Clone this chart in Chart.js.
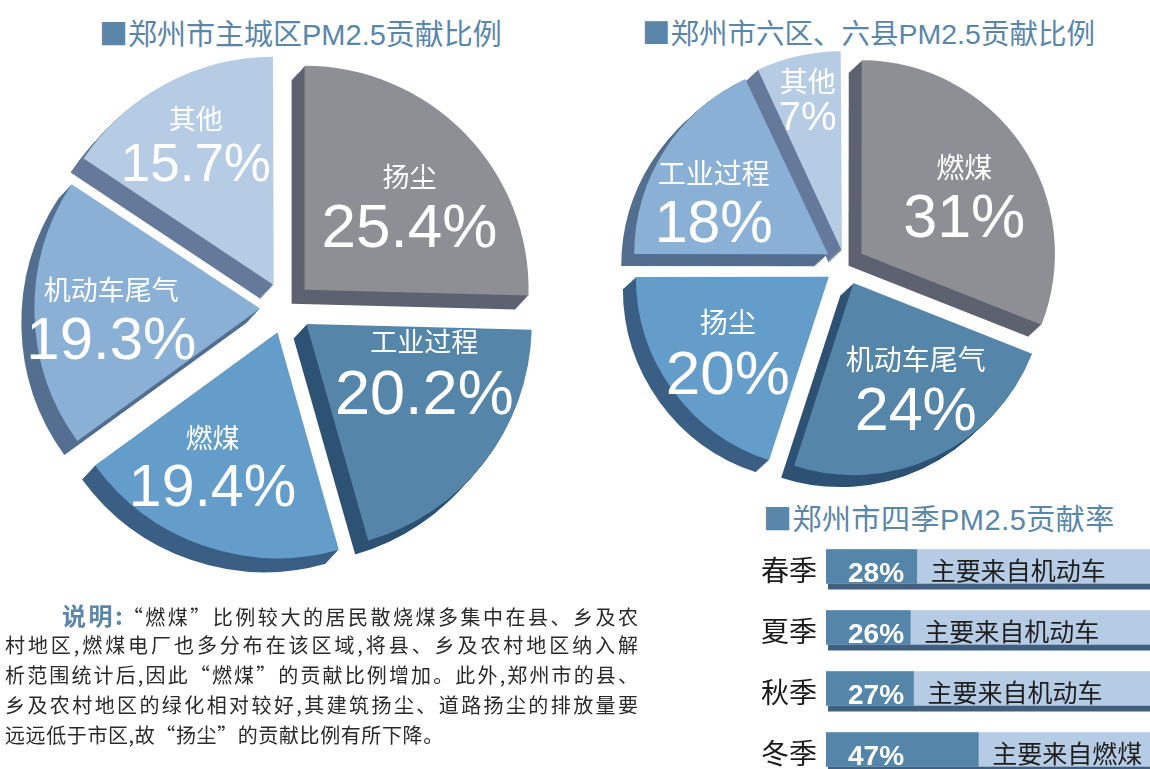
<!DOCTYPE html>
<html lang="zh-CN">
<head>
<meta charset="utf-8">
<script src="https://cdn.jsdelivr.net/npm/chart.js@4.4.1/dist/chart.umd.min.js"></script>
<style>
  html, body { margin: 0; padding: 0; width: 1150px; height: 769px; overflow: hidden; background: #fff; }
  body { position: relative; font-family: "Noto Sans CJK SC", sans-serif; }
  .title { position: absolute; color: #5a86aa; font-size: 29px; line-height: 29px; white-space: nowrap;
           font-family: "Liberation Sans", "Noto Sans CJK SC", sans-serif; }
  .title .sq { font-family: "Noto Sans CJK SC", sans-serif; }
  canvas { position: absolute; }
  #note { position: absolute; left: 5px; top: 600px; width: 633px; font-size: 20px; line-height: 30px; color: #2a2a2a; }
  #note div { height: 30px; text-align: justify; text-align-last: justify; white-space: nowrap; }
  #note div.last { text-align: left; text-align-last: left; letter-spacing: 0.6px; }
  #note .lead { color: #5a86aa; font-weight: bold; font-size: 24px; }
</style>
</head>
<body>

<div class="title" style="left:99px; top:18px;"><span class="sq">■</span>郑州市主城区PM2.5贡献比例</div>
<div class="title" style="left:642px; top:17px; font-size:28.5px;"><span class="sq">■</span>郑州市六区、六县PM2.5贡献比例</div>
<div class="title" style="left:763px; top:503px; letter-spacing:0.5px;"><span class="sq">■</span>郑州市四季PM2.5贡献率</div>

<canvas id="pieCity" width="564" height="616" style="left:4px; top:0;"></canvas>
<canvas id="pieCounty" width="500" height="500" style="left:595px; top:15px;"></canvas>
<canvas id="seasonBars" width="410" height="244" style="left:740px; top:536px;"></canvas>

<div id="note">
  <div style="padding-left:57px;"><span class="lead">说明:</span>“燃煤”比例较大的居民散烧煤多集中在县、乡及农</div>
  <div>村地区,燃煤电厂也多分布在该区域,将县、乡及农村地区纳入解</div>
  <div>析范围统计后,因此“燃煤”的贡献比例增加。此外,郑州市的县、</div>
  <div>乡及农村地区的绿化相对较好,其建筑扬尘、道路扬尘的排放量要</div>
  <div class="last">远远低于市区,故“扬尘”的贡献比例有所下降。</div>
</div>

<script>
// 主城区
const cityLabels = ['扬尘', '工业过程', '燃煤', '机动车尾气', '其他'];
const cityShare = [25.4, 20.2, 19.4, 19.3, 15.7];

// 六区、六县
const countyLabels = ['燃煤', '机动车尾气', '扬尘', '工业过程', '其他'];
const countyShare = [31, 24, 20, 18, 7];

// 四季
const seasons = ['春季', '夏季', '秋季', '冬季'];
const seasonShare = [28, 26, 27, 47];
const seasonFull = [100, 100, 100, 100];
const seasonSource = ['主要来自机动车', '主要来自机动车', '主要来自机动车', '主要来自燃煤'];

const TOPS = ['#8e8f94', '#5585a9', '#649dca', '#8ab0d6', '#b6cbe4'];
const SIDES = ['#5e6270', '#2e5274', '#3b5f84', '#546f90', '#657a9b'];

// extruded side of each slice, drawn under the slices
const depthPlugin = {
  id: 'depth',
  beforeDatasetsDraw(chart, args, opts) {
    const ctx = chart.ctx;
    chart.getDatasetMeta(0).data.forEach((el, i) => {
      const orig = el.options.backgroundColor;
      el.options.backgroundColor = opts.sides[i];
      for (let s = opts.steps; s >= 1; s--) {
        ctx.save();
        ctx.translate(opts.dx * s, opts.dy * s);
        el.draw(ctx);
        ctx.restore();
      }
      el.options.backgroundColor = orig;
    });
  }
};

// name + percentage inside each slice
const sliceLabels = {
  id: 'sliceLabels',
  afterDatasetsDraw(chart, args, opts) {
    const ctx = chart.ctx;
    const values = chart.data.datasets[0].data;
    chart.getDatasetMeta(0).data.forEach((el, i) => {
      const frac = opts.place[i][0], shift = opts.place[i][1];
      const a = (el.startAngle + el.endAngle) / 2 + shift * Math.PI / 180;
      const x = el.x + Math.cos(a) * el.outerRadius * frac;
      const y = el.y + Math.sin(a) * el.outerRadius * frac;
      const ps = opts.pctSizes[i], ns = opts.nameSize;
      const half = 4 + 0.33 * ps;
      ctx.save();
      ctx.fillStyle = '#fff';
      ctx.textAlign = 'center';
      ctx.textBaseline = 'alphabetic';
      ctx.font = ns + 'px "Noto Sans CJK SC"';
      ctx.fillText(chart.data.labels[i], x, y - half + 0.38 * ns);
      ctx.font = ps + 'px "Liberation Sans", Arial, sans-serif';
      ctx.fillText(String(values[i]) + '%', x, y + half + 0.358 * ps);
      ctx.restore();
    });
  }
};

function pie(id, labels, values, radius, offset, depth, labelOpts) {
  return new Chart(document.getElementById(id), {
    type: 'pie',
    data: {
      labels: labels,
      datasets: [{
        data: values,
        backgroundColor: TOPS,
        borderWidth: 0,
        offset: offset
      }]
    },
    options: {
      responsive: false,
      animation: false,
      radius: radius,
      layout: { padding: 0 },
      plugins: {
        legend: { display: false },
        tooltip: { enabled: false },
        depth: { sides: SIDES, steps: depth.steps, dx: depth.dx, dy: depth.dy },
        sliceLabels: labelOpts
      }
    },
    plugins: [depthPlugin, sliceLabels]
  });
}

// bar shadow strip + texts on the season bars
const barDepth = {
  id: 'barDepth',
  beforeDatasetsDraw(chart) {
    const ctx = chart.ctx;
    ctx.save();
    ctx.fillStyle = '#415f7e';
    chart.getDatasetMeta(1).data.forEach(el => {
      ctx.fillRect(el.base + 2, el.y - el.height / 2 + 6, el.x - el.base, el.height);
    });
    ctx.restore();
  }
};
const barText = {
  id: 'barText',
  afterDatasetsDraw(chart) {
    const ctx = chart.ctx;
    ctx.save();
    ctx.textBaseline = 'alphabetic';
    ctx.textAlign = 'left';
    chart.getDatasetMeta(0).data.forEach((el, i) => {
      ctx.fillStyle = '#fff';
      ctx.font = 'bold 28px "Liberation Sans", Arial, sans-serif';
      ctx.fillText(seasonShare[i] + '%', el.base + 22, el.y + 15.5);
      ctx.fillStyle = '#1e1e1e';
      ctx.font = '25px "Noto Sans CJK SC"';
      ctx.fillText(seasonSource[i], el.x + 14, el.y + 13);
    });
    ctx.restore();
  }
};

function draw() {
  pie('pieCity', cityLabels, cityShare, 224, 104,
    { steps: 14, dx: -0.93, dy: 1 },
    {
      nameSize: 27,
      pctSizes: [62, 63, 59, 60, 53],
      place: [[0.73, 3.3], [0.67, -15], [0.76, 6.5], [0.78, -0.5], [0.85, 0]]
    });

  pie('pieCounty', countyLabels, countyShare, 192, [80, 80, 80, 80, 56],
    { steps: 13, dx: -1, dy: 0.92 },
    {
      nameSize: 28,
      pctSizes: [61, 61, 62, 59, 40],
      place: [[0.73, 2.5], [0.72, -5.6], [0.745, 1], [0.77, -5], [0.89, 0]]
    });

  new Chart(document.getElementById('seasonBars'), {
    type: 'bar',
    data: {
      labels: seasons,
      datasets: [
        { data: seasonShare, backgroundColor: '#5585a9', barThickness: 34, grouped: false, order: 1 },
        { data: seasonFull, backgroundColor: '#b6cbe4', barThickness: 34, grouped: false, order: 2 }
      ]
    },
    options: {
      indexAxis: 'y',
      responsive: false,
      animation: false,
      layout: { padding: 0 },
      plugins: { legend: { display: false }, tooltip: { enabled: false } },
      scales: {
        x: { display: false, min: 0, max: 100 },
        y: {
          grid: { display: false, drawTicks: false },
          border: { display: false },
          ticks: {
            color: '#1a1a1a',
            padding: 9,
            labelOffset: 4,
            font: { size: 28, family: '"Noto Sans CJK SC"' }
          },
          afterFit(axis) {
            axis.width = 86;
            axis.paddingTop = 0;
            axis.paddingBottom = 0;
          }
        }
      }
    },
    plugins: [barDepth, barText]
  });
}

Promise.all([
  document.fonts.load('27px "Noto Sans CJK SC"'),
  document.fonts.load('60px "Liberation Sans"'),
  document.fonts.load('bold 28px "Liberation Sans"')
]).then(draw, draw);
</script>
</body>
</html>
